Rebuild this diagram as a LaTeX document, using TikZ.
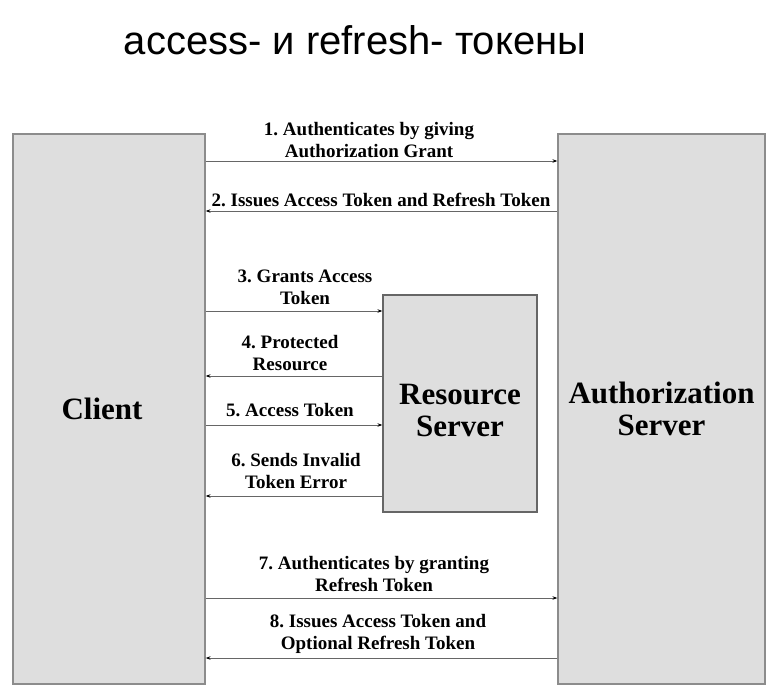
\documentclass[tikz,border=0pt]{standalone}
\usepackage{fontspec}
\setmainfont{Liberation Serif}
\newfontfamily\titlefont{Liberation Sans}
\usetikzlibrary{arrows.meta}
\frenchspacing

\begin{document}
\begin{tikzpicture}[x=1pt,y=-1pt,
    party/.style={draw=black!45,line width=1.2pt,fill=black!13,inner sep=0pt,
        align=center,font=\bfseries\fontsize{31}{32}\selectfont},
    msg/.style={draw=black!60,line width=0.9pt,-{Stealth[length=5pt,width=3.5pt,black]}},
    lbl/.style={inner sep=0pt,align=center,font=\bfseries\fontsize{19}{22}\selectfont}]
    \useasboundingbox (0,0) rectangle (775,695);

    \node (title) at (355,40) {\titlefont\fontsize{40}{44}\selectfont access- и refresh- токены};

    \node[party,minimum width=192pt,minimum height=550pt] (client) at (109,409) {\hspace*{-14pt}Client};
    \node[party,minimum width=207pt,minimum height=550pt] (auth) at (661.5,409) {Authorization\\Server};
    \node[party,draw=black!60,minimum width=154pt,minimum height=217pt] (rs) at (460,403.5)
        {\raisebox{-16.5pt}[0pt][0pt]{\begin{tabular}{@{}c@{}}Resource\\Server\end{tabular}}};

    \draw[msg] (client.east |- 0,161) -- (auth.west |- 0,161);
    \draw[msg] (auth.west |- 0,211) -- (client.east |- 0,211);
    \draw[msg] (client.east |- 0,311) -- (rs.west |- 0,311);
    \draw[msg] (rs.west |- 0,376) -- (client.east |- 0,376);
    \draw[msg] (client.east |- 0,425) -- (rs.west |- 0,425);
    \draw[msg] (rs.west |- 0,496) -- (client.east |- 0,496);
    \draw[msg] (client.east |- 0,598) -- (auth.west |- 0,598);
    \draw[msg] (auth.west |- 0,658) -- (client.east |- 0,658);

    \node[lbl] (l1) at (369,140) {1. Authenticates by giving\\Authorization Grant};
    \node[lbl] (l2) at (381,200) {2. Issues Access Token and Refresh Token};
    \node[lbl] (l3) at (305,287) {3. Grants Access\\Token};
    \node[lbl] (l4) at (290,353) {4. Protected\\Resource};
    \node[lbl] (l5) at (290,410) {5. Access Token};
    \node[lbl] (l6) at (296,471) {6. Sends Invalid\\Token Error};
    \node[lbl] (l7) at (374,574) {7. Authenticates by granting\\Refresh Token};
    \node[lbl] (l8) at (378,634) {8. Issues Access Token and\\Optional Refresh Token};
\end{tikzpicture}
\end{document}
